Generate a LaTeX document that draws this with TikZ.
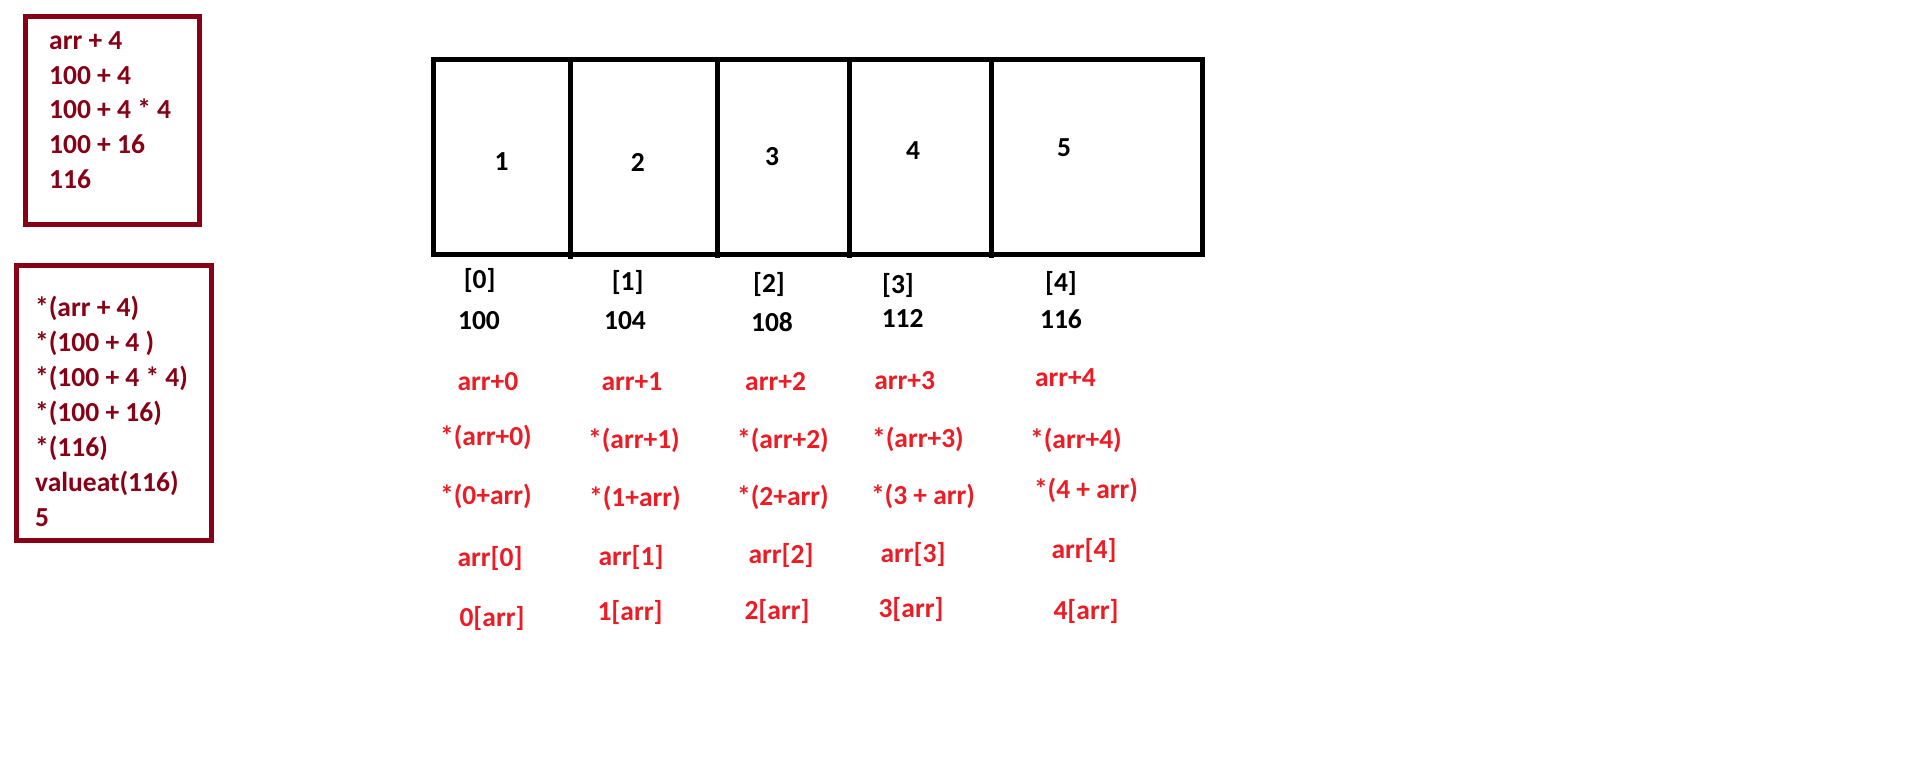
\documentclass[tikz,border=0pt]{standalone}
\usepackage{fontspec}
\setmainfont{Carlito}
\definecolor{darkred}{HTML}{880015}
\definecolor{pred}{HTML}{ED1C24}
\begin{document}
\begin{tikzpicture}[x=1pt,y=-1pt,
  every node/.style={font=\fontsize{27.5}{32}\selectfont\bfseries, inner sep=0pt},
  boxline/.style={draw=darkred, line width=5pt},
  arrline/.style={draw=black, line width=5pt},
  boxtxt/.style={text=darkred, anchor=base west},
  cellval/.style={text=black},
  lbl/.style={text=black},
  expr/.style={text=pred}]
\useasboundingbox[fill=white] (0,0) rectangle (1910,772);

% left boxes
\draw[boxline] (25,16) rectangle (199,224);
\draw[boxline] (16,265) rectangle (211,540);

\node[boxtxt] (a1) at (49,49) {arr + 4};
\node[boxtxt] (a2) at (49,84) {100 + 4};
\node[boxtxt] (a3) at (49,118.5) {100 + 4 * 4};
\node[boxtxt] (a4) at (49,153) {100 + 16};
\node[boxtxt] (a5) at (49,188.5) {116};

\node[boxtxt] (b1) at (35,316) {*(arr + 4)};
\node[boxtxt] (b2) at (35,351) {*(100 + 4 )};
\node[boxtxt] (b3) at (35,386) {*(100 + 4 * 4)};
\node[boxtxt] (b4) at (35,421) {*(100 + 16)};
\node[boxtxt] (b5) at (35,456) {*(116)};
\node[boxtxt] (b6) at (35,491) {valueat(116)};
\node[boxtxt] (b7) at (35,526) {5};

% array
\draw[arrline] (433.8,59.7) rectangle (1202,254);
\draw[arrline] (570,59.7) -- (570,259);
\draw[arrline] (717,59.7) -- (717,258);
\draw[arrline] (849,59.7) -- (849,258);
\draw[arrline] (991,59.7) -- (991,258);

\node[cellval] (v1) at (501.6,161.7) {1};
\node[cellval] (v2) at (637.9,162.7) {2};
\node[cellval] (v3) at (772,156.7) {3};
\node[cellval] (v4) at (913,151) {4};
\node[cellval] (v5) at (1064,148) {5};

\node[lbl] (i0) at (479.7,280) {[0]};
\node[lbl] (i1) at (627.7,282) {[1]};
\node[lbl] (i2) at (769,284) {[2]};
\node[lbl] (i3) at (898,285) {[3]};
\node[lbl] (i4) at (1061,283) {[4]};

\node[lbl] (d0) at (479,321) {100};
\node[lbl] (d1) at (625,321) {104};
\node[lbl] (d2) at (772,322) {108};
\node[lbl] (d3) at (902.7,318) {112};
\node[lbl] (d4) at (1061,319) {116};

% red expressions
\node[expr] (p0) at (488,382) {arr+0};
\node[expr] (p1) at (632,382) {arr+1};
\node[expr] (p2) at (775.6,382) {arr+2};
\node[expr] (p3) at (904.7,381) {arr+3};
\node[expr] (p4) at (1065.4,378) {arr+4};

\node[expr] (q0) at (486,437) {*(arr+0)};
\node[expr] (q1) at (634,440) {*(arr+1)};
\node[expr] (q2) at (783,440) {*(arr+2)};
\node[expr] (q3) at (918,439) {*(arr+3)};
\node[expr] (q4) at (1076,440) {*(arr+4)};

\node[expr] (r0) at (486,496) {*(0+arr)};
\node[expr] (r1) at (635,498) {*(1+arr)};
\node[expr] (r2) at (783,497) {*(2+arr)};
\node[expr] (r3) at (923,496) {*(3 + arr)};
\node[expr] (r4) at (1086,490) {*(4 + arr)};

\node[expr] (s0) at (490,558) {arr[0]};
\node[expr] (s1) at (631,557) {arr[1]};
\node[expr] (s2) at (781,555) {arr[2]};
\node[expr] (s3) at (913,554) {arr[3]};
\node[expr] (s4) at (1084,550) {arr[4]};

\node[expr] (t0) at (492,618) {0[arr]};
\node[expr] (t1) at (630,612) {1[arr]};
\node[expr] (t2) at (777,611) {2[arr]};
\node[expr] (t3) at (911,609) {3[arr]};
\node[expr] (t4) at (1086,611) {4[arr]};
\end{tikzpicture}
\end{document}
